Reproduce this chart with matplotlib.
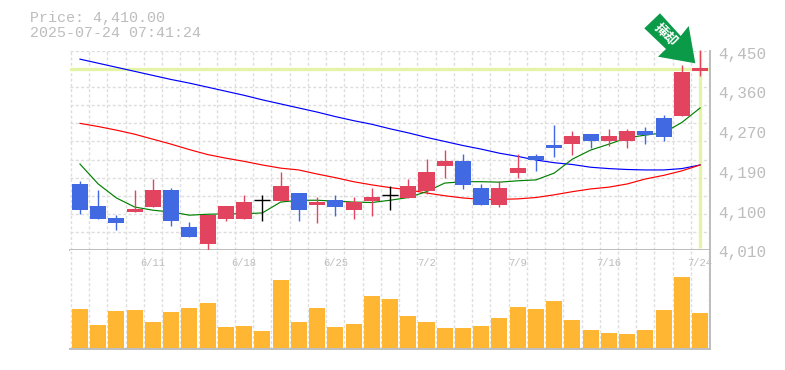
import matplotlib
matplotlib.use("Agg")
import matplotlib.pyplot as plt
from matplotlib.patches import Polygon
from matplotlib.transforms import Affine2D

# candles, oldest first (yen)
opens = [4156, 4107, 4081, 4094, 4105, 4143, 4061, 4023, 4078, 4078, 4120, 4118,
         4136, 4109, 4120, 4098, 4118, 4132, 4125, 4140, 4196, 4207, 4147, 4109,
         4180, 4218, 4242, 4244, 4266, 4251, 4251, 4273, 4302, 4306, 4406]
closes = [4098, 4078, 4070, 4101, 4143, 4074, 4039, 4087, 4107, 4116, 4120, 4151,
          4098, 4116, 4105, 4116, 4127, 4132, 4151, 4182, 4207, 4154, 4109, 4147,
          4191, 4209, 4235, 4262, 4251, 4262, 4273, 4264, 4260, 4404, 4412]
highs = [4163, 4143, 4087, 4143, 4167, 4147, 4072, 4087, 4107, 4132, 4132, 4182,
         4136, 4127, 4132, 4127, 4147, 4151, 4167, 4211, 4231, 4222, 4156, 4163,
         4222, 4222, 4286, 4273, 4266, 4277, 4277, 4282, 4308, 4419, 4452]
lows = [4090, 4078, 4054, 4094, 4105, 4063, 4039, 4008, 4074, 4078, 4074, 4118,
        4074, 4070, 4085, 4078, 4085, 4098, 4125, 4134, 4169, 4145, 4109, 4105,
        4169, 4185, 4216, 4220, 4235, 4240, 4235, 4244, 4251, 4306, 4395]

ma_short = [4200, 4156, 4125, 4105, 4098, 4094, 4087, 4089, 4090, 4090, 4092, 4116,
            4120, 4120, 4118, 4116, 4115, 4120, 4126, 4139, 4158, 4161, 4161, 4160,
            4163, 4165, 4180, 4211, 4231, 4244, 4258, 4264, 4269, 4292, 4324]
ma_mid = [4290, 4283, 4275, 4266, 4255, 4244, 4232, 4221, 4213, 4206, 4198, 4191,
          4187, 4178, 4170, 4161, 4154, 4148, 4143, 4136, 4130, 4125, 4122, 4122,
          4123, 4126, 4132, 4139, 4145, 4149, 4156, 4167, 4175, 4185, 4198]
ma_long = [4432, 4423, 4414, 4405, 4396, 4387, 4379, 4370, 4361, 4352, 4342, 4333,
           4324, 4315, 4305, 4296, 4288, 4278, 4269, 4259, 4250, 4241, 4233, 4224,
           4217, 4209, 4203, 4199, 4193, 4190, 4188, 4187, 4187, 4190, 4198]

volume = [39, 23, 37, 38, 26, 36, 40, 45, 21, 22, 17, 68, 26, 40, 21, 24, 52, 49,
          32, 26, 20, 20, 22, 30, 41, 39, 47, 28, 18, 15, 14, 18, 38, 71, 35]

date_idx = [4, 9, 14, 19, 24, 29, 34]
date_labels = ["6/11", "6/18", "6/25", "7/2", "7/9", "7/16", "7/24"]
price_ticks = [4450, 4362, 4274, 4186, 4098, 4010]
price_labels = ["4,450", "4,360", "4,270", "4,190", "4,100", "4,010"]
grid_prices = [4010, 4050, 4090, 4130, 4170, 4210, 4250, 4290, 4330, 4370, 4410, 4450]
last_price = 4410

W, H = 785, 370
GRAY = "#bdbdbd"
GRID = "#dedede"
RED = "#e2445f"
BLUE = "#4169e1"
HILITE = "#e3f4a6"
MONO = "Liberation Mono"
DASH = (0, (2.2, 1.6))

fig = plt.figure(figsize=(W / 100, H / 100), dpi=100)


def panel(top, bottom):
    return fig.add_axes([70.3 / W, 1 - bottom / H, 640 / W, (bottom - top) / H])


ax = panel(51, 250)
vol = panel(250, 349)
n = len(closes)
for a in (ax, vol):
    a.set_xlim(-0.53, 34.56)
    a.set_axisbelow(True)
    a.vlines([i - 0.5 for i in range(n + 1)], 0, 1, transform=a.get_xaxis_transform(),
             color=GRID, lw=1.0, ls=DASH, zorder=0.5)
    a.set_xticks([])
    a.set_yticks([])
    for s in a.spines.values():
        s.set_visible(False)
    a.spines["right"].set_visible(True)
    a.spines["bottom"].set_visible(True)
    a.spines["right"].set_color(GRAY)
    a.spines["bottom"].set_color(GRAY)
    a.spines["right"].set_linewidth(1.4)
    a.spines["bottom"].set_linewidth(1.4)

# price panel
ax.set_ylim(4010, 4450)
ax.hlines(grid_prices, -0.53, 34.56, color=GRID, lw=1.0, ls=DASH, zorder=0.5)
ax.axhline(last_price, xmax=0.997, color=HILITE, lw=2.4, zorder=1)
ax.vlines(n - 1, 4015, 4450, color=HILITE, lw=2.4, zorder=1)

ax.plot(range(n), ma_long, color="#0000ff", lw=0.85, zorder=2)
ax.plot(range(n), ma_mid, color="#ff0000", lw=0.85, zorder=2)
ax.plot(range(n), ma_short, color="#008000", lw=0.85, zorder=2)

for i in range(n):
    if closes[i] > opens[i]:
        c = RED
    elif closes[i] < opens[i]:
        c = BLUE
    else:
        c = "black"
    ax.vlines(i, lows[i], highs[i], color=c, lw=1.0, zorder=3, clip_on=False)
    if c == "black":
        ax.hlines(opens[i], i - 0.44, i + 0.44, color=c, lw=1.0, zorder=3)
    else:
        ax.bar(i, abs(closes[i] - opens[i]), bottom=min(opens[i], closes[i]),
               width=0.88, color=c, zorder=3)

for p, lab in zip(price_ticks, price_labels):
    ax.annotate(lab, (1, p), xycoords=("axes fraction", "data"), xytext=(7.5, -3),
                textcoords="offset pixels", ha="left", va="center", color=GRAY,
                family=MONO, fontsize=11.5, annotation_clip=False)

# volume panel
vol.set_ylim(-0.7, 98.3)
vol.bar(range(n), volume, width=0.88, color="#ffb733", zorder=2)
for i, lab in zip(date_idx, date_labels):
    vol.annotate(lab, (i, 1), xycoords=("data", "axes fraction"), xytext=(0, -12.5),
                 textcoords="offset pixels", ha="center", va="center", color=GRAY,
                 family=MONO, fontsize=7.6, annotation_clip=False)

# header
fig.text(30 / W, 1 - 18 / H, "Price: 4,410.00", color=GRAY, family=MONO, fontsize=10.8,
         va="center")
fig.text(30 / W, 1 - 33 / H, "2025-07-24 07:41:24", color=GRAY, family=MONO,
         fontsize=10.8, va="center")

# green badge, drawn in image pixels
to_px = Affine2D().scale(1, -1).translate(0, H)
arrow = [(660, 13.3), (644.3, 28.3), (666, 49), (658, 56.7), (695.3, 63.3),
         (688.7, 26), (680.7, 36)]
fig.add_artist(Polygon(arrow, closed=True, facecolor="#0a9a48", edgecolor="none",
                       transform=to_px, zorder=5))
fig.text(666 / W, 1 - 35 / H, "挿却", color="white", fontsize=9.5, weight="bold",
         family="Noto Sans CJK JP", rotation=-45, ha="center", va="center",
         rotation_mode="anchor", zorder=6)

fig.savefig("out.png", dpi=100)
